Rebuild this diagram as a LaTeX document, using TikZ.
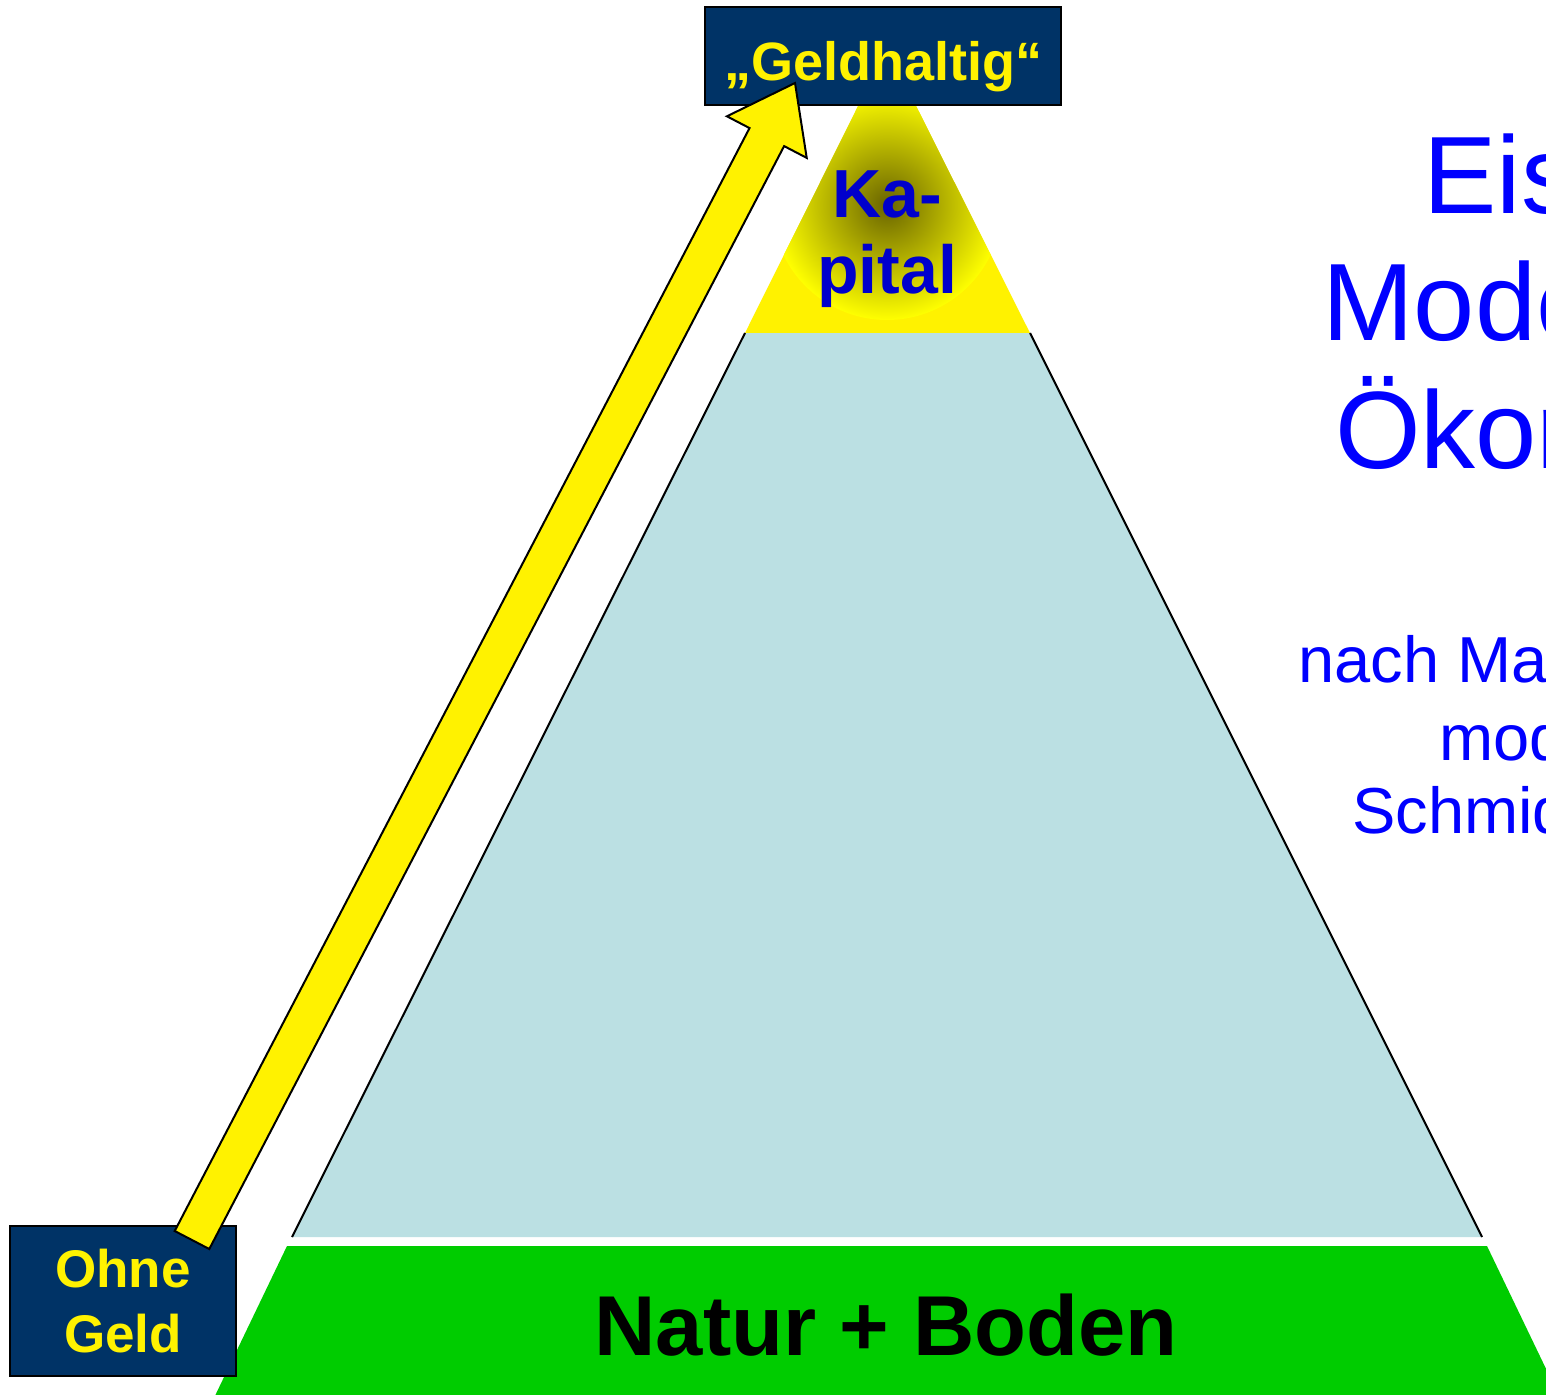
\documentclass[tikz,border=0pt]{standalone}
\usepackage{fontspec}
\setmainfont{Liberation Sans}
\usetikzlibrary{calc}

\definecolor{boxnavy}{RGB}{0,51,102}
\definecolor{icegreen}{RGB}{0,204,0}
\definecolor{iceblue}{RGB}{187,224,227}
\definecolor{kapblue}{RGB}{0,0,204}
\definecolor{kapdark}{RGB}{105,100,0}
\definecolor{titleblue}{RGB}{0,0,255}

\tikzset{
  moneybox/.style={draw=black,line width=2pt,fill=boxnavy,text=yellow,
    font=\bfseries\fontsize{53}{65}\selectfont,align=center,inner sep=0pt},
  titletext/.style={text=titleblue,font=\fontsize{110}{127}\selectfont,
    anchor=base west,inner sep=0pt},
  subtext/.style={text=titleblue,font=\fontsize{65}{75}\selectfont,
    anchor=base west,inner sep=0pt}
}

\begin{document}
\begin{tikzpicture}[x=1pt,y=-1pt]
  \useasboundingbox[fill=white] (0,0) rectangle (1546,1394);

  %Natur + Boden
  \fill[icegreen] (287,1246) -- (1487,1246) -- (1561,1400) -- (213,1400) -- cycle;
  \node[draw=none,anchor=base,inner sep=0pt,font=\bfseries\fontsize{85}{100}\selectfont] (natur) at (886,1355) {Natur + Boden};

  %iceberg body
  \fill[iceblue] (745,333) -- (1030,333) -- (1482,1237) -- (292,1237) -- cycle;
  \draw[line width=2pt] (745,333) -- (292,1237);
  \draw[line width=2pt] (1030,333) -- (1482,1237);

  %Kapital
  \begin{scope}
    \clip (887,48) -- (1030,333) -- (745,333) -- cycle;
    \fill[yellow] (745,40) rectangle (1030,333);
    \shade[inner color=kapdark,outer color=yellow] (887,205) circle (115);
  \end{scope}
  \node[draw=none,anchor=base,inner sep=0pt,align=center,text=kapblue,
    font=\bfseries\fontsize{68}{76}\selectfont] (kapital) at (887,293) {Ka-\\pital};

  %boxes
  \node[moneybox,minimum width=356pt,minimum height=98pt,
    font=\bfseries\fontsize{54}{60}\selectfont,text height=62pt,text depth=12pt] (geld) at (883,56) {„Geldhaltig“};
  \node[moneybox,minimum width=226pt,minimum height=150pt] (ohne) at (123,1301) {Ohne\\Geld};

  %title
  \node[titletext] (eis) at (1423,213) {Eis};
  \node[titletext] (mode) at (1322,340) {Mode};
  \node[titletext] (oekon) at (1335,468) {Ökon};

  \node[subtext] (nach) at (1298,682) {nach Ma};
  \node[subtext] (mod) at (1439,760) {mod};
  \node[subtext] (schmid) at (1352,833) {Schmid};

  %arrow
  \coordinate (tail) at ($(ohne.north)+(69,15)$);
  \coordinate (tip) at ($(geld.south)+(-88,-23)$);
  \coordinate (headbase) at ($(tip)!61pt!(tail)$);
  \draw[fill=yellow,line width=2pt,line join=miter]
    ($(tail)!19.5pt!90:(tip)$) -- ($(headbase)!19.5pt!90:(tip)$)
    -- ($(headbase)!45pt!90:(tip)$) -- (tip)
    -- ($(headbase)!45pt!-90:(tip)$) -- ($(headbase)!19.5pt!-90:(tip)$)
    -- ($(tail)!19.5pt!-90:(tip)$) -- cycle;

\end{tikzpicture}
\end{document}
